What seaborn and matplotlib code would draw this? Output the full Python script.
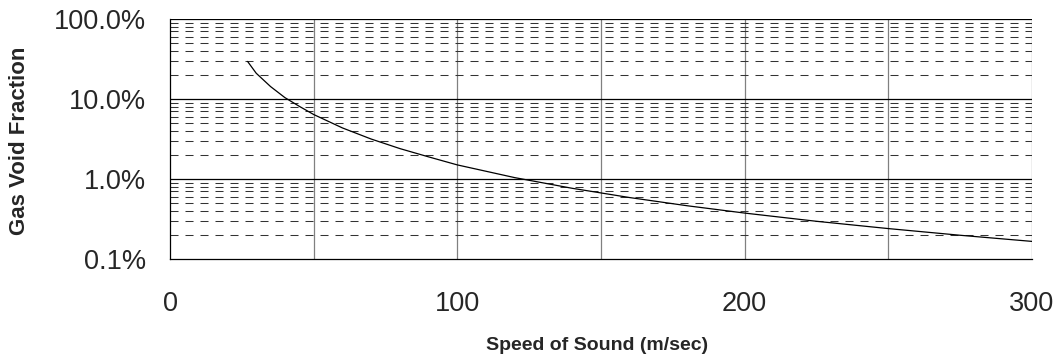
import matplotlib
matplotlib.use("Agg")
import matplotlib.pyplot as plt
import matplotlib.ticker as mticker
import seaborn as sns
import pandas as pd

# Data
speed_of_sound = [27, 30, 35, 40, 45, 50, 60, 70, 80, 90, 100, 120, 140, 160,
                  180, 200, 225, 250, 275, 300]
gas_void_fraction = [0.295, 0.21, 0.143, 0.104, 0.081, 0.064, 0.0435, 0.0316,
                     0.024, 0.0189, 0.015, 0.0104, 0.00765, 0.00586, 0.00463,
                     0.00375, 0.00296, 0.0024, 0.00198, 0.00166]
x_ticks = [0, 100, 200, 300]
x_grid = [0, 50, 100, 150, 200, 250, 300]
y_ticks = [0.001, 0.01, 0.1, 1.0]
y_tick_labels = ["0.1%", "1.0%", "10.0%", "100.0%"]
x_label = "Speed of Sound (m/sec)"
y_label = "Gas Void Fraction"

df = pd.DataFrame({"speed": speed_of_sound, "gvf": gas_void_fraction})

sns.set_style("white")
plt.rcParams["font.family"] = ["Liberation Sans", "DejaVu Sans"]

fig = plt.figure(figsize=(10.6, 3.6), dpi=100)
ax = fig.add_axes([170 / 1060, 1 - 259 / 360, (1032 - 170) / 1060, 240 / 360])

ax.set_yscale("log")
ax.set_xlim(0, 300)
ax.set_ylim(0.001, 1.0)

# grid lines
for xv in x_grid[1:]:
    ax.axvline(xv, color="#808080", lw=0.9, zorder=1)
for yv in y_ticks[1:]:
    ax.axhline(yv, color="black", lw=0.9, zorder=1)
minor_vals = [m * 10.0 ** e for e in (-3, -2, -1) for m in range(2, 10)]
for yv in minor_vals:
    ax.axhline(yv, color="#333333", lw=0.75, ls=(0, (7.7, 6.7)), zorder=1)

sns.lineplot(data=df, x="speed", y="gvf", ax=ax, color="black", lw=0.9,
             zorder=3, legend=False)

ax.set_xticks(x_ticks)
ax.set_xticklabels([str(v) for v in x_ticks])
ax.set_yticks(y_ticks)
ax.set_yticklabels(y_tick_labels)
ax.yaxis.set_minor_locator(mticker.FixedLocator(minor_vals))
ax.yaxis.set_minor_formatter(mticker.NullFormatter())
ax.xaxis.set_minor_locator(mticker.NullLocator())

ax.tick_params(axis="y", which="major", direction="inout", length=14.4,
               width=0.9, color="black", labelsize=19.5, pad=10)
ax.tick_params(axis="y", which="minor", direction="in", length=7.2,
               width=0.75, color="black")
ax.tick_params(axis="x", which="major", direction="out", length=7.2,
               width=0.9, color="black", labelsize=19.5, pad=16)

for side in ("top", "right"):
    ax.spines[side].set_visible(False)
for side in ("left", "bottom"):
    ax.spines[side].set_color("black")
    ax.spines[side].set_linewidth(0.9)

ax.set_xlabel(x_label, fontsize=14, fontweight="bold")
ax.set_ylabel(y_label, fontsize=16, fontweight="bold")
ax.xaxis.label.set_va("center")
ax.yaxis.label.set_va("center")
ax.xaxis.set_label_coords((597 - 170) / 862, (259 - 346) / 240)
ax.yaxis.set_label_coords((20 - 170) / 862, (259 - 141) / 240)

fig.savefig("out.png", dpi=100, facecolor="white")
